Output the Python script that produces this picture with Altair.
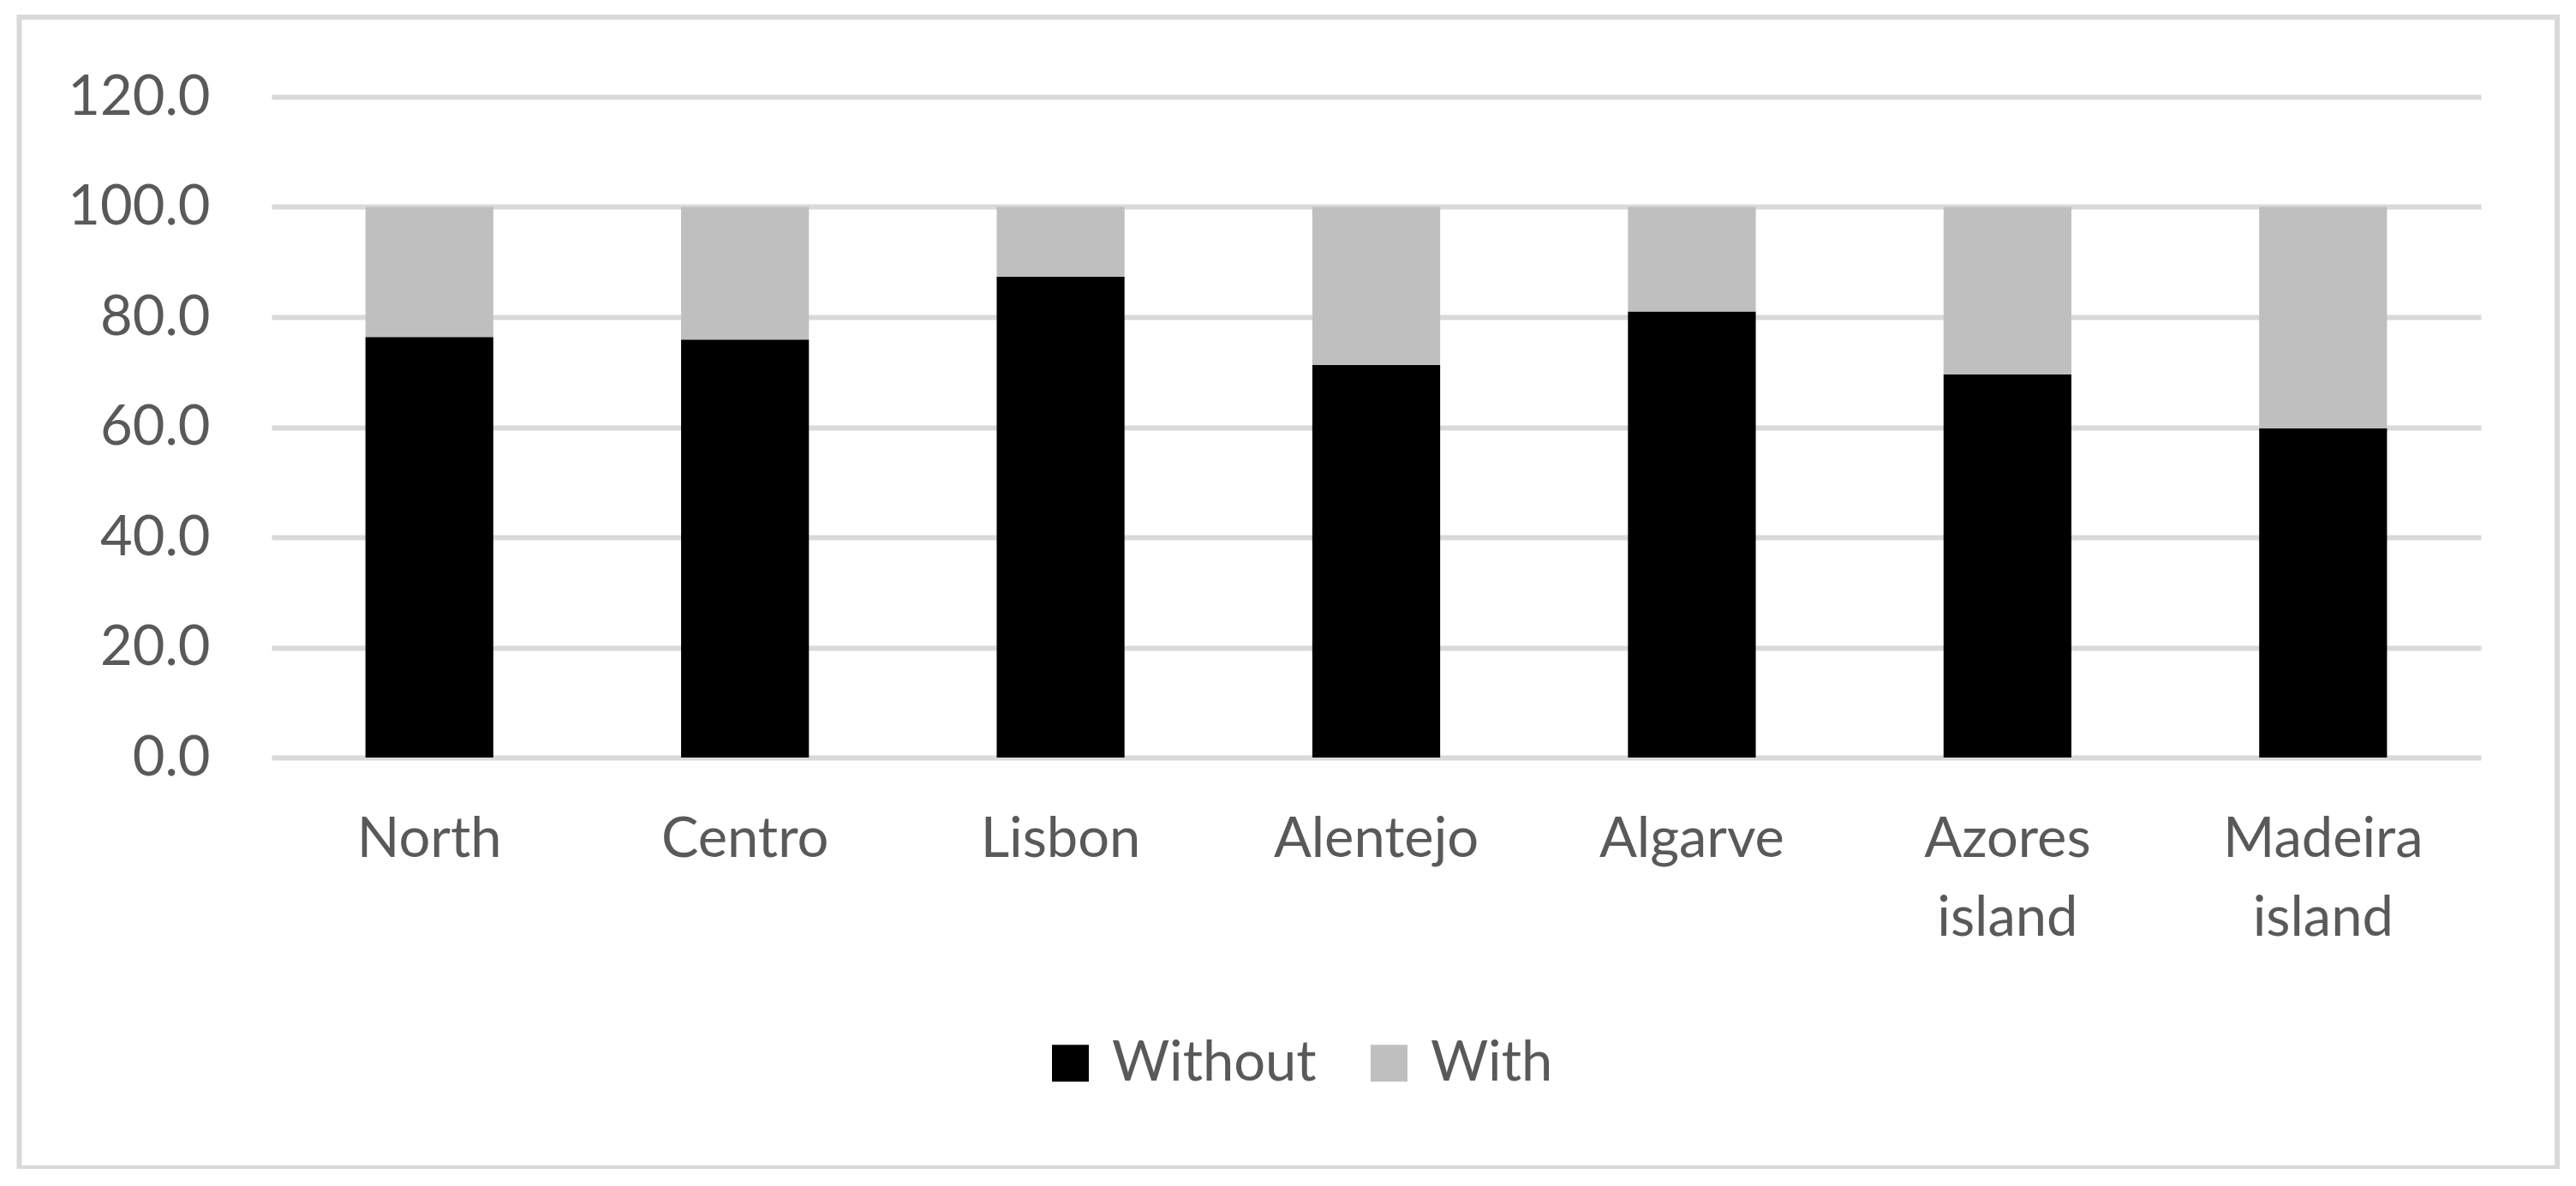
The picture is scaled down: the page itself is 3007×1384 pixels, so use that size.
import altair as alt
import pandas as pd

regions = ["North", "Centro", "Lisbon", "Alentejo", "Algarve", "Azores island", "Madeira island"]
without_vals = [76.4, 75.9, 87.3, 71.3, 81.0, 69.6, 59.8]
with_vals = [23.6, 24.1, 12.7, 28.7, 19.0, 30.4, 40.2]
series = ["Without", "With"]
colors = ["#000000", "#bfbfbf"]
y_ticks = [0, 20, 40, 60, 80, 100, 120]

rows = []
for i, r in enumerate(regions):
    rows.append({"region": r, "group": "Without", "value": without_vals[i], "ord": 0})
    rows.append({"region": r, "group": "With", "value": with_vals[i], "ord": 1})
df = pd.DataFrame(rows)

FONT = "Lato"
TXT = "#595959"
GRID = "#d9d9d9"

bars = alt.Chart(df).mark_bar().encode(
    x=alt.X("region:N", sort=regions,
            scale=alt.Scale(paddingInner=0.595, paddingOuter=0.2975),
            axis=alt.Axis(title=None, labelAngle=0, labelExpr="split(datum.label, ' ')",
                          labelFont=FONT, labelFontSize=65, labelColor=TXT,
                          labelLineHeight=92, labelPadding=64, ticks=False, tickSize=0,
                          domain=False, grid=False, labelBaseline="top",
                          labelLimit=1000)),
    y=alt.Y("value:Q", stack="zero",
            scale=alt.Scale(domain=[0, 120], nice=False),
            axis=alt.Axis(title=None, values=y_ticks, format=".1f",
                          labelFont=FONT, labelFontSize=65, labelColor=TXT,
                          labelPadding=72, ticks=False, tickSize=0, domain=False,
                          grid=True, gridColor=GRID, gridWidth=6)),
    color=alt.Color("group:N", sort=series,
                    scale=alt.Scale(domain=series, range=colors),
                    legend=alt.Legend(title=None, orient="none", direction="horizontal",
                                      legendX=900, legendY=1095,
                                      symbolType="square", symbolSize=1849,
                                      symbolStrokeWidth=0, labelFont=FONT,
                                      labelFontSize=65, labelColor=TXT,
                                      labelOffset=16, columnPadding=52,
                                      labelLimit=500)),
    order=alt.Order("ord:Q", sort="ascending"),
)

border = alt.Chart(pd.DataFrame({"k": [0]})).mark_rect(
    fill=None, filled=False, stroke=GRID, strokeWidth=6, clip=False
).encode(
    x=alt.value(-294.5), x2=alt.value(2668),
    y=alt.value(-93), y2=alt.value(1250),
)

chart = alt.layer(border, bars).properties(
    width=2579, height=771,
    autosize=alt.AutoSizeParams(type="none"),
    padding={"left": 309, "top": 105, "right": 95, "bottom": 480},
).configure(background="white").configure_view(stroke=None, strokeWidth=0)

chart.save("out.html", embed_options={"renderer": "svg", "actions": False})
